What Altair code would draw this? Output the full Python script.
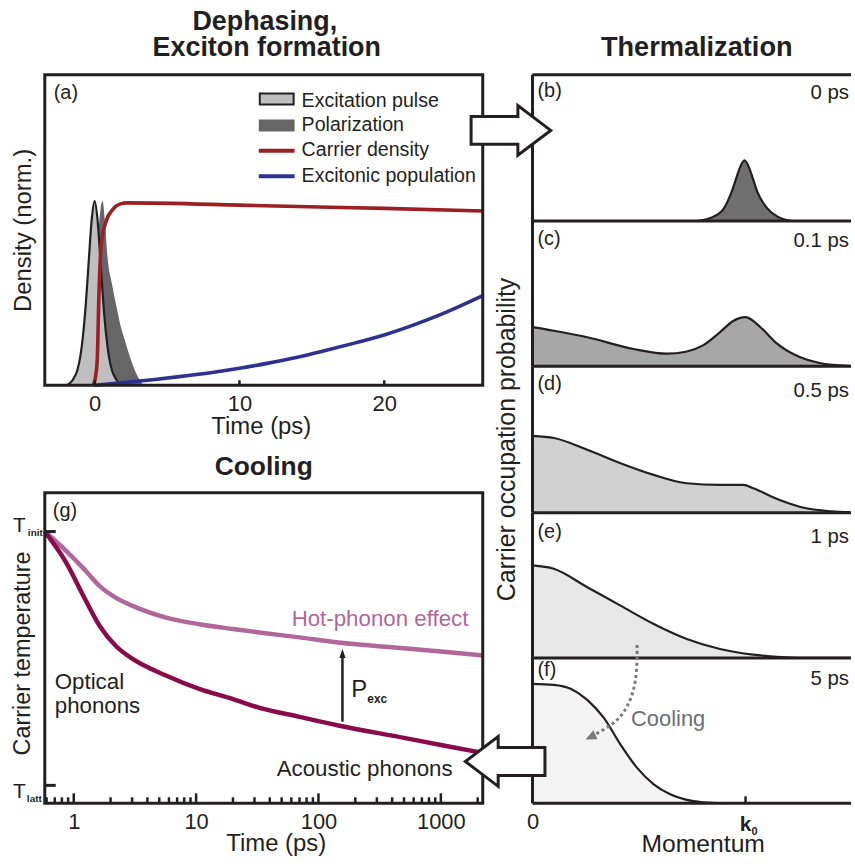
import altair as alt
import pandas as pd

FONT = "Liberation Sans"
INK = "#231f20"

# ---------------- (a) dephasing / exciton formation ----------------
pulse_t = [-1.9, -1.5, -1.2, -1.0, -0.8, -0.6, -0.4, -0.2, 0.0, 0.2, 0.4, 0.6, 0.8, 1.0, 1.2, 1.5, 1.9]
pulse_v = [0.0, 0.03, 0.08, 0.15, 0.27, 0.45, 0.68, 0.9, 1.0, 0.9, 0.68, 0.45, 0.27, 0.15, 0.08, 0.03, 0.0]
pol_t = [-1.0, -0.6, -0.3, 0.0, 0.2, 0.4, 0.55, 0.7, 0.9, 1.2, 1.5, 1.8, 2.1, 2.5, 2.9, 3.35]
pol_v = [0.0, 0.04, 0.15, 0.45, 0.75, 0.95, 1.0, 0.9, 0.69, 0.55, 0.43, 0.32, 0.24, 0.14, 0.06, 0.0]
dens_t = [-0.07, 0.05, 0.18, 0.3, 0.46, 0.8, 1.26, 1.83, 2.2, 10.0, 14.0, 20.0, 26.8]
dens_v = [0.0, 0.04, 0.135, 0.496, 0.766, 0.892, 0.955, 0.986, 0.99, 0.978, 0.97, 0.96, 0.946]
exc_t = [0.0, 2, 4, 6, 8, 10, 12, 14, 16, 18, 20, 22, 24, 26.8]
exc_v = [0.0, 0.014, 0.03, 0.048, 0.068, 0.092, 0.12, 0.152, 0.19, 0.23, 0.273, 0.326, 0.387, 0.486]
time_ticks_a = [0, 10, 20]
legend_labels = ["Excitation pulse", "Polarization", "Carrier density", "Excitonic population"]

# ---------------- (g) cooling ----------------
cool_t = [0.58, 0.87, 1.2, 1.63, 2.2, 3.03, 5.67, 10.6, 20, 33, 70, 145, 500, 1000, 2200]
hot_T = [1.0, 0.923, 0.855, 0.785, 0.74, 0.707, 0.661, 0.635, 0.616, 0.602, 0.583, 0.563, 0.54, 0.527, 0.512]
opt_T = [1.0, 0.877, 0.746, 0.628, 0.55, 0.498, 0.433, 0.38, 0.34, 0.305, 0.27, 0.236, 0.187, 0.159, 0.128]
major_ticks = [1, 10, 100, 1000]
minor_ticks = [0.6, 0.7, 0.8, 0.9, 2, 3, 4, 5, 6, 7, 8, 9, 20, 30, 40, 50, 60, 70, 80, 90,
               200, 300, 400, 500, 600, 700, 800, 900, 2000]
temp_levels = [0.0, 1.0]  # T_latt, T_init
pexc_t, pexc_from, pexc_to = 157, 0.251, 0.537

# ---------------- (b)-(f) thermalization ----------------
k_b = [0.77, 0.85, 0.9, 0.935, 0.958, 0.975, 0.995, 1.015, 1.032, 1.055, 1.1, 1.15, 1.22]
f_b = [0.0, 0.03, 0.09, 0.2, 0.3, 0.37, 0.414, 0.37, 0.3, 0.2, 0.09, 0.03, 0.0]
k_c = [0.0, 0.1, 0.257, 0.475, 0.63, 0.72, 0.8, 0.88, 0.94, 1.0, 1.07, 1.145, 1.254, 1.347, 1.49]
f_c = [0.27, 0.245, 0.2, 0.119, 0.087, 0.1, 0.144, 0.235, 0.31, 0.338, 0.269, 0.16, 0.064, 0.023, 0.003]
k_d = [0.0, 0.101, 0.257, 0.413, 0.569, 0.724, 0.88, 0.99, 1.036, 1.16, 1.285, 1.425, 1.49]
f_d = [0.525, 0.51, 0.43, 0.338, 0.258, 0.201, 0.19, 0.19, 0.167, 0.087, 0.03, 0.007, 0.003]
k_e = [0.0, 0.1, 0.257, 0.413, 0.569, 0.724, 0.88, 1.036, 1.19, 1.3, 1.49]
f_e = [0.637, 0.614, 0.487, 0.36, 0.234, 0.131, 0.062, 0.023, 0.005, 0.001, 0.0]
k_f = [0.0, 0.1, 0.179, 0.257, 0.335, 0.413, 0.49, 0.569, 0.646, 0.724, 0.8, 0.9]
f_f = [0.822, 0.815, 0.788, 0.712, 0.587, 0.404, 0.245, 0.13, 0.062, 0.023, 0.007, 0.0]
delays = ["0 ps", "0.1 ps", "0.5 ps", "1 ps", "5 ps"]
tags = ["(b)", "(c)", "(d)", "(e)", "(f)"]
fills = ["#6f6f6f", "#a7a7a7", "#d1d1d1", "#e7e7e7", "#f3f3f3"]
k0 = 1.0
cooling_k = [0.491, 0.491, 0.475, 0.444, 0.397, 0.335, 0.272]
cooling_f = [1.089, 0.909, 0.772, 0.655, 0.566, 0.507, 0.455]

ONE = pd.DataFrame({"k": [0]})

ARROW = "M -1 -0.35 L 0.175 -0.35 L 0.175 -0.625 L 1 0 L 0.175 0.625 L 0.175 0.35 L -1 0.35 Z"
HEAD_UP = "M 0 -1 L 0.7 1 L -0.7 1 Z"
HEAD_RIGHT = "M 1 0 L -1 -0.9 L -1 0.9 Z"


def txt(s, x, y, size, color=INK, align="left", weight="normal"):
    return alt.Chart(ONE).mark_text(
        text=s, font=FONT, fontSize=size, fontWeight=weight, color=color,
        align=align, baseline="alphabetic",
    ).encode(x=alt.value(x), y=alt.value(y))


def hrule(x1, x2, y, width=3, color=INK):
    return alt.Chart(ONE).mark_rule(color=color, strokeWidth=width).encode(
        x=alt.value(x1), x2=alt.value(x2), y=alt.value(y))


def vrule(x, y1, y2, width=3, color=INK):
    return alt.Chart(ONE).mark_rule(color=color, strokeWidth=width).encode(
        x=alt.value(x), y=alt.value(y1), y2=alt.value(y2))


def frame(w, h):
    return alt.Chart(ONE).mark_rect(fill="white", fillOpacity=0, stroke=INK, strokeWidth=3).encode(
        x=alt.value(0), x2=alt.value(w), y=alt.value(0), y2=alt.value(h))


def anchor(x, y):
    return alt.Chart(ONE).mark_rect(opacity=0).encode(
        x=alt.value(x), x2=alt.value(x + 1), y=alt.value(y), y2=alt.value(y + 1))


BOTTOM_AXIS = dict(ticks=False, tickSize=0, domain=False, grid=False, labelFont=FONT, labelFontSize=22,
                   labelColor=INK, labelPadding=8, labelFlush=False, titleFont=FONT,
                   titleFontWeight="normal", titleColor=INK, titleBaseline="alphabetic")
LEFT_AXIS = dict(labels=False, ticks=False, domain=False, grid=False, titleFont=FONT, titleFontWeight="normal",
                 titleColor=INK, titleAngle=270, titleBaseline="alphabetic", titleAlign="center")

# ================= panel (a) =================
WA, HA = 440, 312
xa = alt.X("t:Q", scale=alt.Scale(domain=[-3.44, 26.8], nice=False, zero=False),
           axis=alt.Axis(values=time_ticks_a, format="d", title="Time (ps)", titleFontSize=24,
                         titleX=217, titleY=48, **BOTTOM_AXIS))
ya = alt.Y("v:Q", scale=alt.Scale(domain=[0, 1.686], nice=False, zero=False),
           axis=alt.Axis(title="Density (norm.)", titleFontSize=24, titleX=-14, titleY=HA / 2, **LEFT_AXIS))

pol_df = pd.DataFrame({"t": pol_t, "v": pol_v})
pulse_df = pd.DataFrame({"t": pulse_t, "v": pulse_v})
dens_df = pd.DataFrame({"t": dens_t, "v": dens_v})
exc_df = pd.DataFrame({"t": exc_t, "v": exc_v})
ticks_a_df = pd.DataFrame({"t": time_ticks_a})

RED, BLUE = "#9b1f24", "#2e3192"
PULSE_FILL, POL_FILL = "#bfbfbf", "#666666"
LEG = 19.7

layers_a = [
    alt.Chart(pol_df).mark_area(color=POL_FILL, interpolate="monotone").encode(x=xa, y=ya),
    alt.Chart(pulse_df).mark_area(color=PULSE_FILL, interpolate="monotone").encode(x=xa, y=ya),
    alt.Chart(pulse_df).mark_line(color=INK, strokeWidth=2.2, interpolate="monotone").encode(x=xa, y=ya),
    alt.Chart(dens_df).mark_line(color=RED, strokeWidth=3.6, interpolate="monotone").encode(x=xa, y=ya),
    alt.Chart(exc_df).mark_line(color=BLUE, strokeWidth=3.6, interpolate="monotone").encode(x=xa, y=ya),
    alt.Chart(ticks_a_df).mark_rule(color=INK, strokeWidth=2.5).encode(x=xa, y=alt.value(HA), y2=alt.value(HA - 5)),
    frame(WA, HA),
    # legend
    alt.Chart(ONE).mark_rect(fill=PULSE_FILL, stroke=INK, strokeWidth=2).encode(
        x=alt.value(216), x2=alt.value(250), y=alt.value(19), y2=alt.value(30)),
    alt.Chart(ONE).mark_rect(fill=POL_FILL).encode(
        x=alt.value(215), x2=alt.value(251), y=alt.value(45), y2=alt.value(57)),
    hrule(215, 251, 76.5, width=4, color=RED),
    hrule(215, 251, 102, width=4, color=BLUE),
    txt(legend_labels[0], 258, 32, LEG),
    txt(legend_labels[1], 258, 57, LEG),
    txt(legend_labels[2], 258, 82, LEG),
    txt(legend_labels[3], 258, 107.5, LEG),
    txt("(a)", 9, 24, 20),
    txt("Dephasing,", 221, -45, 27, weight="bold", align="center"),
    txt("Exciton formation", 223, -19, 27, weight="bold", align="center"),
    anchor(-45, -73),
]
panel_a = alt.layer(*layers_a).properties(width=WA, height=HA)

# ================= panel (g) =================
WG, HG = 440, 312
HOT, OPT = "#b0689a", "#8a0b4c"
NOTE = 22.4
xg = alt.X("t:Q", scale=alt.Scale(type="log", domain=[0.58, 2200], nice=False),
           axis=alt.Axis(values=major_ticks, format="d", title="Time (ps)", titleFontSize=24,
                         titleX=232, titleY=47, **BOTTOM_AXIS))
yg = alt.Y("T:Q", scale=alt.Scale(domain=[-0.0706, 1.153], nice=False, zero=False),
           axis=alt.Axis(title="Carrier temperature", titleFontSize=23.5, titleX=-15, titleY=HG / 2 + 5,
                         **LEFT_AXIS))

hot_df = pd.DataFrame({"t": cool_t, "T": hot_T})
opt_df = pd.DataFrame({"t": cool_t, "T": opt_T})
pexc_df = pd.DataFrame({"t": [pexc_t], "T": [pexc_from], "T2": [pexc_to - 0.02]})
phead_df = pd.DataFrame({"t": [pexc_t], "T": [pexc_to]})

layers_g = [
    alt.Chart(hot_df).mark_line(color=HOT, strokeWidth=4.5, interpolate="monotone").encode(x=xg, y=yg),
    alt.Chart(opt_df).mark_line(color=OPT, strokeWidth=4.5, interpolate="monotone").encode(x=xg, y=yg),
    alt.Chart(pd.DataFrame({"t": major_ticks})).mark_rule(color=INK, strokeWidth=2.5).encode(
        x=xg, y=alt.value(HG), y2=alt.value(HG - 10)),
    alt.Chart(pd.DataFrame({"t": minor_ticks})).mark_rule(color=INK, strokeWidth=2.5).encode(
        x=xg, y=alt.value(HG), y2=alt.value(HG - 6)),
    alt.Chart(pd.DataFrame({"T": temp_levels})).mark_rule(color=INK, strokeWidth=3).encode(
        y=yg, x=alt.value(0), x2=alt.value(11)),
    alt.Chart(pexc_df).mark_rule(color=INK, strokeWidth=2.5).encode(x=xg, y=yg, y2=alt.Y2("T2:Q")),
    alt.Chart(phead_df).mark_point(shape=HEAD_UP, size=81, filled=True, color=INK, opacity=1,
                                   yOffset=4.5).encode(x=xg, y=yg),
    txt("Hot-phonon effect", 248, 134, NOTE, color=HOT),
    txt("Optical", 10, 197, NOTE),
    txt("phonons", 10, 221, NOTE),
    txt("Acoustic phonons", 233, 285, NOTE),
    txt("P", 308, 205, 24),
    txt("exc", 324, 211, 12, weight="bold"),
    txt("T", -32, 39, 21),
    txt("init", -17, 43, 10, weight="bold"),
    txt("T", -32, 307, 21),
    txt("latt", -18, 311, 10, weight="bold"),
    txt("(g)", 8, 24, 20),
    frame(WG, HG),
    txt("Cooling", 220, -18, 26.5, weight="bold", align="center"),
]
panel_g = alt.layer(*layers_g).properties(width=WG, height=HG)

# ================= panels (b)-(f) =================
WR = 320
heights = [147, 146, 147, 146, 146]
ks = [k_b, k_c, k_d, k_e, k_f]
fs = [f_b, f_c, f_d, f_e, f_f]
tag_y = [22, 24, 24, 25, 18]
delay_y = [24, 26, 31, 31, 27]
kscale = alt.Scale(domain=[0, 1.495], nice=False, zero=False)
fscale = alt.Scale(domain=[0, 1], nice=False, zero=False)

right_panels = []
for i in range(5):
    h = heights[i]
    last = i == 4
    if last:
        xk = alt.X("k:Q", scale=kscale, axis=alt.Axis(values=[0], title="Momentum", titleFontSize=24.8,
                                                       titleX=171, titleY=48, **BOTTOM_AXIS))
    else:
        xk = alt.X("k:Q", scale=kscale, axis=None)
    if i == 2:
        yk = alt.Y("v:Q", scale=fscale,
                   axis=alt.Axis(title="Carrier occupation probability", titleFontSize=25, titleX=-18,
                                 titleY=h / 2 - 0.5, **LEFT_AXIS))
    else:
        yk = alt.Y("v:Q", scale=fscale, axis=None)
    df = pd.DataFrame({"k": ks[i], "v": fs[i]})
    layers = [
        alt.Chart(df).mark_area(color=fills[i], interpolate="monotone").encode(x=xk, y=yk),
        alt.Chart(df).mark_line(color=INK, strokeWidth=2.2, interpolate="monotone").encode(x=xk, y=yk),
        hrule(0, WR, 0),
        vrule(0, 0, h),
        txt(tags[i], 5, tag_y[i], 20),
        txt(delays[i], 318, delay_y[i], 20.5, align="right"),
    ]
    if last:
        cdf = pd.DataFrame({"k": cooling_k, "v": cooling_f, "o": list(range(len(cooling_k)))})
        layers += [
            hrule(0, WR, h),
            alt.Chart(pd.DataFrame({"k": [k0]})).mark_rule(color=INK, strokeWidth=2.5).encode(
                x=xk, y=alt.value(h), y2=alt.value(h - 7)),
            txt("k", 214, 174, 21, weight="bold", align="center"),
            txt("0", 220, 178, 11, weight="bold"),
            alt.Chart(cdf).mark_line(color="#7a7a7a", strokeWidth=3, strokeDash=[3, 3],
                                     interpolate="basis").encode(x=xk, y=yk, order="o:Q"),
            alt.Chart(cdf.tail(1)).mark_point(shape=HEAD_RIGHT, size=121, filled=True, color="#7a7a7a",
                                              opacity=1, angle=155).encode(x=xk, y=yk),
            txt("Cooling", 99, 68, 22, color="#6d6e71"),
            # transfer arrows between the stages
            alt.Chart(ONE).mark_point(shape=ARROW, size=6400, filled=True, fill="white", stroke=INK,
                                      strokeWidth=3, opacity=1).encode(x=alt.value(-21.7), y=alt.value(-530)),
            alt.Chart(ONE).mark_point(shape=ARROW, size=6400, filled=True, fill="white", stroke=INK,
                                      strokeWidth=3, opacity=1, angle=180).encode(
                x=alt.value(-27.5), y=alt.value(104)),
            anchor(319, 208),
        ]
    if i == 0:
        layers.append(txt("Thermalization", 165, -19, 27.3, weight="bold", align="center"))
    right_panels.append(alt.layer(*layers).properties(width=WR, height=h))

left_col = alt.vconcat(panel_a, panel_g, spacing=108, bounds="flush")
right_col = alt.vconcat(*right_panels, spacing=0, bounds="flush")

# with flush bounds a nested column contributes no width, so the gap includes panel (a)'s width
chart = alt.hconcat(left_col, right_col, spacing=WA + 50, bounds="flush").properties(
    padding=0, background="white"
).configure_view(stroke=None)

chart.save("out.html", embed_options={"renderer": "svg", "actions": False})
